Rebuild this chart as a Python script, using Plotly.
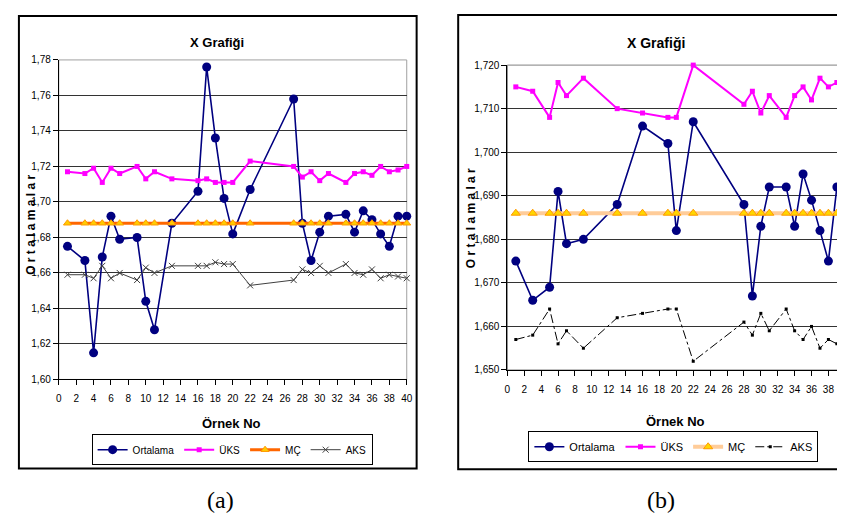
import plotly.graph_objects as go

# ---------------- data: chart (a) ----------------
a_x = [1, 3, 4, 5, 6, 7, 9, 10, 11, 13, 16, 17, 18, 19, 20, 22, 27, 28, 29, 30,
       31, 33, 34, 35, 36, 37, 38, 39, 40]
a_ortalama = [1.675, 1.667, 1.615, 1.669, 1.692, 1.679, 1.680, 1.644, 1.628, 1.688,
              1.706, 1.776, 1.736, 1.702, 1.682, 1.707, 1.758, 1.688, 1.667, 1.683,
              1.692, 1.693, 1.683, 1.695, 1.690, 1.682, 1.675, 1.692, 1.692]
a_uks = [1.717, 1.716, 1.719, 1.711, 1.719, 1.716, 1.720, 1.713, 1.717, 1.713,
         1.712, 1.713, 1.711, 1.711, 1.711, 1.723, 1.720, 1.714, 1.717, 1.712,
         1.716, 1.711, 1.716, 1.717, 1.715, 1.720, 1.717, 1.718, 1.720]
a_mc = [1.688] * len(a_x)
a_aks = [1.659, 1.659, 1.657, 1.664, 1.657, 1.660, 1.656, 1.663, 1.660, 1.664,
         1.664, 1.664, 1.666, 1.665, 1.665, 1.653, 1.656, 1.662, 1.660, 1.664,
         1.660, 1.665, 1.660, 1.659, 1.662, 1.657, 1.659, 1.658, 1.657]

# ---------------- data: chart (b) ----------------
b_x = [1, 3, 5, 6, 7, 9, 13, 16, 19, 20, 22, 28, 29, 30, 31, 33, 34, 35, 36, 37,
       38, 39, 40]
b_ortalama = [1.675, 1.666, 1.669, 1.691, 1.679, 1.680, 1.688, 1.706, 1.702, 1.682,
              1.707, 1.688, 1.667, 1.683, 1.692, 1.692, 1.683, 1.695, 1.689, 1.682,
              1.675, 1.692, 1.692]
b_uks = [1.715, 1.714, 1.708, 1.716, 1.713, 1.717, 1.710, 1.709, 1.708, 1.708,
         1.720, 1.711, 1.714, 1.709, 1.713, 1.708, 1.713, 1.715, 1.712, 1.717,
         1.715, 1.716, 1.717]
b_mc = [1.686] * len(b_x)
b_aks = [1.657, 1.658, 1.664, 1.656, 1.659, 1.655, 1.662, 1.663, 1.664, 1.664,
         1.652, 1.661, 1.658, 1.663, 1.659, 1.664, 1.659, 1.657, 1.660, 1.655,
         1.657, 1.656, 1.655]

series_names = ["Ortalama", "ÜKS", "MÇ", "AKS"]
title_text = "X Grafiği"
x_title = "Örnek No"
y_title = "O r t a l a m a l a r"
captions = ["(a)", "(b)"]

NARROW = "Liberation Sans Narrow, Arial Narrow, Liberation Sans, Arial, sans-serif"
W, H = 845, 526

fig = go.Figure()

# chart (a)
fig.add_trace(go.Scatter(x=a_x, y=a_ortalama, name=series_names[0], mode="lines+markers",
                         line=dict(color="#000080", width=1.6),
                         marker=dict(symbol="circle", size=9, color="#000080"),
                         xaxis="x", yaxis="y", legend="legend", cliponaxis=False))
fig.add_trace(go.Scatter(x=a_x, y=a_uks, name=series_names[1], mode="lines+markers",
                         line=dict(color="#FF00FF", width=2),
                         marker=dict(symbol="square", size=5, color="#FF00FF"),
                         xaxis="x", yaxis="y", legend="legend", cliponaxis=False))
fig.add_trace(go.Scatter(x=a_x, y=a_mc, name=series_names[2], mode="lines+markers",
                         line=dict(color="#FF6600", width=3),
                         marker=dict(symbol="triangle-up", size=7, color="#FFCC00",
                                     line=dict(color="#FF9900", width=1)),
                         xaxis="x", yaxis="y", legend="legend", cliponaxis=False))
fig.add_trace(go.Scatter(x=a_x, y=a_aks, name=series_names[3], mode="lines+markers",
                         line=dict(color="#404040", width=1),
                         marker=dict(symbol="x-thin", size=6,
                                     line=dict(color="#404040", width=1)),
                         xaxis="x", yaxis="y", legend="legend", cliponaxis=False))

# chart (b)
fig.add_trace(go.Scatter(x=b_x, y=b_ortalama, name=series_names[0], mode="lines+markers",
                         line=dict(color="#000080", width=1.6),
                         marker=dict(symbol="circle", size=9, color="#000080"),
                         xaxis="x2", yaxis="y2", legend="legend2", cliponaxis=False))
fig.add_trace(go.Scatter(x=b_x, y=b_uks, name=series_names[1], mode="lines+markers",
                         line=dict(color="#FF00FF", width=2),
                         marker=dict(symbol="square", size=5, color="#FF00FF"),
                         xaxis="x2", yaxis="y2", legend="legend2", cliponaxis=False))
fig.add_trace(go.Scatter(x=b_x, y=b_mc, name=series_names[2], mode="lines+markers",
                         line=dict(color="#FFCC99", width=4),
                         marker=dict(symbol="triangle-up", size=8, color="#FFD700",
                                     line=dict(color="#FF9900", width=1)),
                         xaxis="x2", yaxis="y2", legend="legend2", cliponaxis=False))
fig.add_trace(go.Scatter(x=b_x, y=b_aks, name=series_names[3], mode="lines+markers",
                         line=dict(color="#000000", width=1, dash="dashdot"),
                         marker=dict(symbol="square", size=3, color="#000000"),
                         xaxis="x2", yaxis="y2", legend="legend2", cliponaxis=False))


def px_x(px):
    return px / W


def px_y(py):
    return 1 - py / H


tickfont = dict(family=NARROW, size=10, color="#000000")
xcommon = dict(range=[0, 40], dtick=2, tick0=0, ticks="outside", ticklen=5, tickcolor="#000",
               showline=True, linecolor="#000", linewidth=1, showgrid=False, zeroline=False,
               tickfont=tickfont, ticklabelstandoff=5, ticklabeloverflow="allow",
               fixedrange=True)
ycommon = dict(ticks="outside", ticklen=5, tickcolor="#000", showline=True, linecolor="#000",
               linewidth=1, showgrid=True, gridcolor="#333333", gridwidth=1, zeroline=False,
               tickfont=tickfont, fixedrange=True)

legend_font = dict(family=NARROW, size=10, color="#000")
fig.update_layout(
    width=W, height=H, margin=dict(l=0, r=0, t=0, b=0),
    paper_bgcolor="white", plot_bgcolor="white",
    separators=",.",
    xaxis=dict(domain=[px_x(48.3), px_x(400)], anchor="y", **xcommon),
    yaxis=dict(domain=[px_y(374), px_y(47)], anchor="x", range=[1.60, 1.78], dtick=0.02,
               tickformat=".2f", **ycommon),
    xaxis2=dict(domain=[px_x(501.7), px_x(843.3)], anchor="y2", **xcommon),
    yaxis2=dict(domain=[px_y(364.3), px_y(52.3)], anchor="x2", range=[1.650, 1.720],
                dtick=0.01, tickformat=".3f", **ycommon),
    legend=dict(orientation="h", x=px_x(223.5), y=px_y(430), xanchor="center", yanchor="top",
                bordercolor="#000", borderwidth=1, bgcolor="white", itemwidth=30,
                font=legend_font, tracegroupgap=0),
    legend2=dict(orientation="h", x=px_x(669.5), y=px_y(427), xanchor="center", yanchor="top",
                 bordercolor="#000", borderwidth=1, bgcolor="white", itemwidth=30,
                 font=dict(legend_font, size=11), tracegroupgap=0),
    showlegend=True,
)

shapes = [
    # outer frames
    dict(type="rect", xref="paper", yref="paper", x0=px_x(8), x1=px_x(410), y0=px_y(465),
         y1=px_y(2), line=dict(color="#000", width=2), layer="below"),
    dict(type="rect", xref="paper", yref="paper", x0=px_x(452), x1=px_x(900), y0=px_y(466),
         y1=px_y(1), line=dict(color="#000", width=2), layer="below"),
    # plot-area borders (gray)
    dict(type="rect", xref="x domain", yref="y domain", x0=0, x1=1, y0=0, y1=1,
         line=dict(color="#A0A0A0", width=1), layer="below"),
    dict(type="rect", xref="x2 domain", yref="y2 domain", x0=0, x1=1, y0=0, y1=1,
         line=dict(color="#808080", width=1), layer="below"),
]
fig.update_layout(shapes=shapes)

bold = dict(family=NARROW, size=13, color="#000", weight="bold")
ann = [
    dict(text=title_text, x=px_x(208), y=px_y(29), font=bold),
    dict(text=title_text, x=px_x(652), y=px_y(30), font=dict(bold, size=14)),
    dict(text=x_title, x=px_x(223), y=px_y(419), font=bold),
    dict(text=x_title, x=px_x(672), y=px_y(417), font=bold),
    dict(text=y_title, x=px_x(20), y=px_y(216), textangle=-90, font=dict(bold, size=12)),
    dict(text=y_title, x=px_x(465), y=px_y(209), textangle=-90, font=dict(bold, size=12)),
    dict(text=captions[0], x=px_x(212), y=px_y(497),
         font=dict(family="Liberation Serif, Times New Roman, serif", size=24, color="#000")),
    dict(text=captions[1], x=px_x(657), y=px_y(497),
         font=dict(family="Liberation Serif, Times New Roman, serif", size=24, color="#000")),
]
for a in ann:
    a.update(xref="paper", yref="paper", showarrow=False, xanchor="center", yanchor="middle")
fig.update_layout(annotations=ann)

fig.write_html("out.html")
